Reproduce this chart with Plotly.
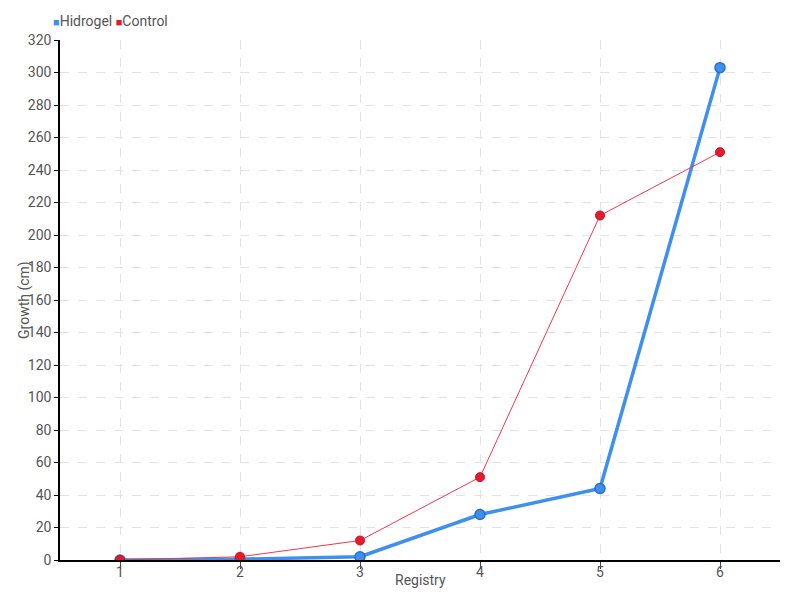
import plotly.graph_objects as go

registry = [1, 2, 3, 4, 5, 6]
hidrogel = [0, 0.5, 2, 28, 44, 303]
control = [0, 2, 12, 51, 212, 251]
y_ticks = list(range(0, 321, 20))

FONT = "Roboto, Lato, sans-serif"
GRAY = "#555555"
BLUE = "#3d8ff0"
RED = "#e8192c"

fig = go.Figure()
fig.add_trace(go.Scatter(
    x=registry, y=hidrogel, mode="lines+markers", name="Hidrogel",
    line=dict(color=BLUE, width=3.5),
    marker=dict(size=10, color=BLUE, line=dict(color="#2a6fc9", width=1.5)),
))
fig.add_trace(go.Scatter(
    x=registry, y=control, mode="lines+markers", name="Control",
    line=dict(color="#f0384a", width=1),
    marker=dict(size=9, color=RED, line=dict(color="#d0101f", width=1)),
))

# legend as text
fig.add_annotation(
    xref="paper", yref="paper", x=-0.013, y=1.0, yshift=19,
    xanchor="left", yanchor="middle", showarrow=False,
    text=(f"<span style='color:{BLUE};font-size:11px'>■</span>Hidrogel "
          f"<span style='color:{RED};font-size:11px'>■</span>Control"),
    font=dict(family=FONT, size=14, color=GRAY),
)
# axis titles
fig.add_annotation(
    xref="paper", yref="paper", x=0, y=0.5, xshift=-36,
    xanchor="center", yanchor="middle", showarrow=False, textangle=-90,
    text="Growth (cm)", font=dict(family=FONT, size=14, color=GRAY),
)
fig.add_annotation(
    xref="paper", yref="paper", x=0.5, y=0, yshift=-20,
    xanchor="center", yanchor="middle", showarrow=False,
    text="Registry", font=dict(family=FONT, size=14, color=GRAY),
)

fig.update_layout(
    width=792, height=592,
    margin=dict(l=52, r=20, t=32, b=40, autoexpand=False),
    paper_bgcolor="white", plot_bgcolor="white",
    font=dict(family=FONT, size=14, color=GRAY),
    showlegend=False,
)
fig.update_xaxes(
    range=[0.5, 6.5], tickvals=registry, ticktext=[str(r) for r in registry],
    showline=True, linecolor="black", linewidth=1.5,
    ticks="outside", ticklen=7, tickcolor="#444444",
    ticklabelstandoff=-9,
    showgrid=True, gridcolor="#e3e3e3", griddash="dash", gridwidth=1,
    zeroline=False,
    tickfont=dict(size=14, color=GRAY),
)
fig.update_yaxes(
    range=[0, 320], tickvals=y_ticks,
    showline=True, linecolor="black", linewidth=1.5,
    ticks="outside", ticklen=4, tickcolor="black",
    showgrid=True, gridcolor="#e3e3e3", griddash="dash", gridwidth=1,
    zeroline=False,
    tickfont=dict(size=14, color=GRAY),
)

fig.write_html("out.html")
